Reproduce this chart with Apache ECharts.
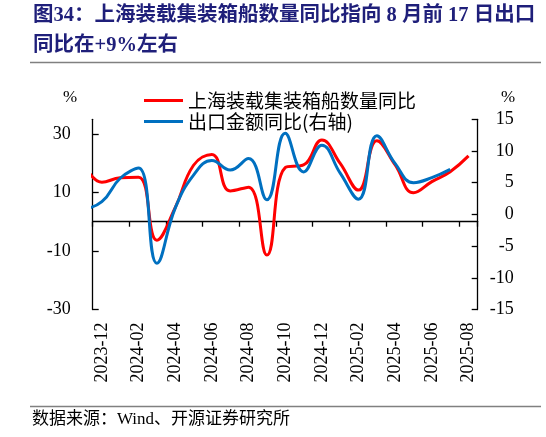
<!DOCTYPE html>
<html><head><meta charset="utf-8">
<script src="https://cdn.jsdelivr.net/npm/echarts@6/dist/echarts.min.js"></script>
<style>html,body{margin:0;padding:0;background:#fff}#c{width:546px;height:437px}</style>
</head><body><div id="c"></div>
<script>
// Month categories shown on the x axis (2023-12 .. 2025-08)
const months = ['2023-12','2024-01','2024-02','2024-03','2024-04','2024-05','2024-06','2024-07','2024-08','2024-09','2024-10','2024-11','2024-12','2025-01','2025-02','2025-03','2025-04','2025-05','2025-06','2025-07','2025-08'];
// Data start one month earlier (2023-11); that point lies left of the plot and is clipped
const firstDataMonth = '2023-11';
// 上海装载集装箱船数量同比 (%, left axis), 2023-11 .. 2025-08
const shipYoY = [20, 13.5, 15, 15.2, -6.3, 4.8, 19.3, 23, 10.5, 11.8, -11.4, 18.5, 19.4, 27.9, 19.9, 10.8, 27.7, 19.4, 9.9, 13.7, 17.1, 22.5];
// 出口金额同比 (%, right axis), 2023-11 .. 2025-07
const exportYoY = [0.8, 2.0, 5.7, 7.3, -7.7, 1.0, 6.2, 8.5, 7.0, 8.8, 2.3, 12.8, 6.7, 10.9, 6.5, 2.4, 12.4, 8.0, 5.0, 5.8, 7.1];
const leftTicks = [-30, -10, 10, 30];
const rightTicks = [-15, -10, -5, 0, 5, 10, 15];

const serif = 'Liberation Serif';
const cjk = 'Noto Sans CJK SC';
function toPoints(arr) { return arr.map((v, k) => [k - 1, v]); }

const chart = echarts.init(document.getElementById('c'), null, {renderer: 'canvas'});
chart.setOption({
  backgroundColor: '#fff',
  animation: false,
  title: {
    text: '图34：上海装载集装箱船数量同比指向 8 月前 17 日出口\n同比在+9%左右',
    left: 33, top: 1, padding: 0,
    textStyle: {fontFamily: serif + ',' + cjk, fontWeight: 'bold', fontSize: 20.5, color: '#1F1F7A', lineHeight: 30}
  },
  grid: {left: 92.7, right: 68.3, top: 119.3, bottom: 127.5, containLabel: false, outerBoundsMode: 'none'},
  legend: {
    orient: 'vertical', left: 139, top: 86, itemWidth: 39, itemHeight: 3, itemGap: 2,
    textStyle: {fontFamily: cjk, fontSize: 19, color: '#000', lineHeight: 19},
    data: [
      {name: '上海装载集装箱船数量同比', icon: 'rect'},
      {name: '出口金额同比(右轴)', icon: 'rect'}
    ]
  },
  xAxis: [
    {
      type: 'category', data: months, boundaryGap: true, position: 'bottom',
      axisLine: {show: true, onZero: true, onZeroAxisIndex: 0, lineStyle: {color: '#000', width: 1.3}},
      axisTick: {show: true, interval: 1, length: 5, inside: false, alignWithLabel: false, lineStyle: {color: '#000', width: 1.3}},
      axisLabel: {show: false}, splitLine: {show: false}
    },
    {
      type: 'category', data: months, boundaryGap: true, position: 'bottom',
      axisLine: {show: false, onZero: false}, axisTick: {show: false}, splitLine: {show: false},
      axisLabel: {interval: 1, rotate: 90, margin: 13, fontFamily: serif, fontSize: 18, color: '#000'}
    },
    {type: 'value', min: -0.5, max: 20.5, show: false, position: 'bottom', splitLine: {show: false}}
  ],
  yAxis: [
    {
      type: 'value', min: -30, max: 35, interval: 20, position: 'left',
      axisLine: {show: true, onZero: false, lineStyle: {color: '#000', width: 1.3}},
      axisTick: {show: true, inside: true, length: 6, customValues: leftTicks, lineStyle: {color: '#000', width: 1.3}},
      axisLabel: {customValues: leftTicks, margin: 22, fontFamily: serif, fontSize: 18, color: '#000'},
      splitLine: {show: false}
    },
    {
      type: 'value', min: -15, max: 15, interval: 5, position: 'right',
      axisLine: {show: true, onZero: false, lineStyle: {color: '#000', width: 1.3}},
      axisTick: {show: true, inside: true, length: 6, customValues: rightTicks, lineStyle: {color: '#000', width: 1.3}},
      axisLabel: {customValues: rightTicks, align: 'right', margin: 36, fontFamily: serif, fontSize: 18, color: '#000'},
      splitLine: {show: false}
    }
  ],
  series: [
    {
      name: '上海装载集装箱船数量同比', type: 'line', xAxisIndex: 2, yAxisIndex: 0,
      data: toPoints(shipYoY), smooth: 0.45, symbol: 'none', clip: true, z: 2,
      lineStyle: {color: '#FF0000', width: 3}, itemStyle: {color: '#FF0000'}
    },
    {
      name: '出口金额同比(右轴)', type: 'line', xAxisIndex: 2, yAxisIndex: 1,
      data: toPoints(exportYoY), smooth: 0.45, symbol: 'none', clip: true, z: 3,
      lineStyle: {color: '#0070C0', width: 3}, itemStyle: {color: '#0070C0'}
    }
  ],
  graphic: [
    {type: 'line', shape: {x1: 30, y1: 62.5, x2: 541, y2: 62.5}, style: {stroke: '#808080', lineWidth: 1.5}},
    {type: 'line', shape: {x1: 30, y1: 406.5, x2: 541, y2: 406.5}, style: {stroke: '#808080', lineWidth: 1.5}},
    {type: 'text', left: 63, top: 89, style: {text: '%', font: '17px "Liberation Serif"', fill: '#000'}},
    {type: 'text', left: 501, top: 89, style: {text: '%', font: '17px "Liberation Serif"', fill: '#000'}},
    {type: 'text', left: 32, top: 411, style: {text: '数据来源：Wind、开源证券研究所', font: '17px "Liberation Serif","Noto Sans CJK SC"', fill: '#000'}}
  ]
});
</script>
</body></html>
